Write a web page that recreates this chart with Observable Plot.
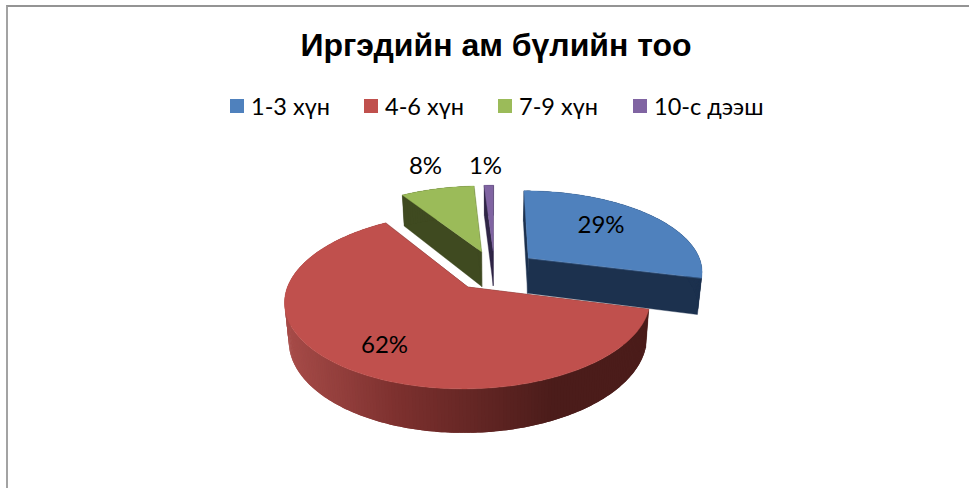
<!DOCTYPE html>
<html><head><meta charset="utf-8">
<script src="https://cdn.jsdelivr.net/npm/d3@7"></script>
<script src="https://cdn.jsdelivr.net/npm/@observablehq/plot@0.6"></script>
<style>
html,body{margin:0;padding:0;background:#fff;overflow:hidden}
#page{position:relative;width:969px;height:488px;overflow:hidden}
#frame{position:absolute;left:6px;top:5px;right:-5px;bottom:-5px;border-left:2px solid #a3a3a3;border-top:2px solid #949494}
#title{position:absolute;left:0;width:992px;top:24px;height:42px;text-align:center;font:bold 32px/42px "Liberation Sans",Arial,sans-serif;color:#000}
#legend{position:absolute;left:230px;top:90px;height:32px;display:flex;align-items:center;font:23.5px/32px Lato,sans-serif;color:#000;white-space:nowrap}
#legend .it{display:flex;align-items:center}
#legend i{display:block;width:14px;height:14px;margin-right:7px}
#chart{position:absolute;left:0;top:125px}
#chart svg{display:block}
</style></head>
<body><div id="page"><div id="frame"></div>
<div id="title"></div><div id="legend"></div><div id="chart"></div></div>
<script>
const titleText = "Иргэдийн ам бүлийн тоо";
const categories = ["1-3 хүн", "4-6 хүн", "7-9 хүн", "10-с дээш"];
const shares = [29, 62, 8, 1];
const labels = ["29%", "62%", "8%", "1%"];
const topColors = ["#4f81bd", "#c0504d", "#9bbb59", "#8064a2"];
const sideColors = ["#1c314e", "#4b1c1a", "#3f4a20", "#2f2546"];
const legendGaps = [34, 34, 35, 0];
const legendTextWidths = [79, 79, 79, 110];

// view of the tilted disc
const originX = 494, originY = 269.7, scaleX = 175, scaleY = 80.8, persp = 0.151;
const explode = 0.25, depth = 36, shrink = 0.98;
const labelPos = [[600.5,225],[384,345],[425,166],[485,166]];

const project = (u, v, low) => {
  const d = 1 - persp * v;
  const dx = scaleX * u / d, dy = scaleY * v / d;
  return low ? [originX + dx * shrink, originY + dy + depth / d]
             : [originX + dx, originY + dy];
};
const rimShade = d3.scaleLinear().domain([288, 400, 555]).range(["#a64b48", "#7c302e", "#4b1c1a"]).clamp(true);

// slice angles
let acc = 0;
const slices = shares.map((s, i) => {
  const a0 = acc / 100 * 2 * Math.PI; acc += s;
  const a1 = acc / 100 * 2 * Math.PI;
  const m = (a0 + a1) / 2;
  return {i, a0, a1, cu: explode * Math.sin(m), cv: -explode * Math.cos(m)};
});
const rim = (s, a) => [s.cu + Math.sin(a), s.cv - Math.cos(a)];
const arcSteps = s => {
  const n = Math.max(2, Math.ceil((s.a1 - s.a0) / (Math.PI / 180)));
  return d3.range(n + 1).map(k => s.a0 + (s.a1 - s.a0) * k / n);
};
const poly = (points, id, color) => points.map(p => ({x: p[0], y: p[1], id, color}));

function faceRows(s) {
  const rows = [];
  const side = sideColors[s.i];
  for (const a of [s.a0, s.a1]) {
    const [u, v] = rim(s, a);
    rows.push(...poly([project(s.cu, s.cv, false), project(u, v, false), project(u, v, true), project(s.cu, s.cv, true)], "cut" + s.i + a, side));
  }
  return rows;
}
function wallRows(s) {
  const rows = [];
  const steps = arcSteps(s);
  // each piece runs on to the end of the wall; the next piece paints over it, so no seams show
  steps.slice(0, -1).reverse().forEach((a, k) => {
    const rest = steps.filter(b => b <= a + (s.a1 - s.a0) / (steps.length - 1) * 1.01);
    const from = a;
    const to = rest[rest.length - 1];
    const span = steps.filter(b => b >= from && b <= to + 0.02);
    const tops = span.map(b => project(...rim(s, b), false));
    const lows = span.map(b => project(...rim(s, b), true)).reverse();
    const xm = (tops[0][0] + tops[tops.length - 1][0]) / 2;
    rows.push(...poly([...tops, ...lows], "wall" + s.i + "-" + k, s.i === 1 ? rimShade(xm) : sideColors[s.i]));
  });
  return rows;
}
function topRows(s) {
  return poly([project(s.cu, s.cv, false), ...arcSteps(s).map(a => project(...rim(s, a), false))], "top" + s.i, topColors[s.i]);
}
const drawOrder = [3, 2, 0, 1];
const closed = (rows, extra) => Plot.line(rows, {x: "x", y: "y", z: "id", fill: "color", curve: "linear-closed", ...extra});
const sliceMarks = drawOrder.flatMap(i => [
  closed(faceRows(slices[i]), {stroke: "color", strokeWidth: 0.4}),
  closed(wallRows(slices[i]), {stroke: "none"}),
  closed(topRows(slices[i]), {stroke: "color", strokeWidth: 0.4})
]);

const labelRows = labels.map((text, i) => ({text, x: labelPos[i][0], y: labelPos[i][1]}));

document.getElementById("title").textContent = titleText;
const lg = document.getElementById("legend");
categories.forEach((c, i) => {
  const it = document.createElement("div"); it.className = "it";
  it.style.marginRight = legendGaps[i] + "px";
  const sw = document.createElement("i"); sw.style.background = topColors[i];
  const t = document.createElement("span"); t.textContent = c;
  t.style.width = legendTextWidths[i] + "px";
  it.append(sw, t); lg.append(it);
});

const plot = Plot.plot({
  width: 969, height: 363, margin: 0,
  x: {domain: [0, 969], range: [0, 969], axis: null},
  y: {domain: [125, 488], range: [0, 363], axis: null},
  color: {type: "identity"},
  marks: [
    ...sliceMarks,
    Plot.text(labelRows, {x: "x", y: "y", text: "text", fontSize: 24, fontFamily: "Lato, sans-serif", fill: "#000", textAnchor: "middle", lineAnchor: "middle"})
  ]
});
document.getElementById("chart").append(plot);
</script></body></html>
